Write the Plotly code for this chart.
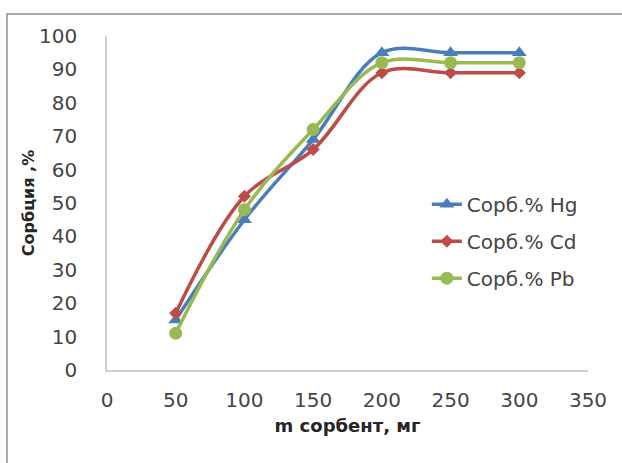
import plotly.graph_objects as go

# Sorbent mass, mg
mass = [50, 100, 150, 200, 250, 300]

# Sorption degree, %
sorb_hg = [15, 45, 69, 95, 95, 95]
sorb_cd = [17, 52, 66, 89, 89, 89]
sorb_pb = [11, 48, 72, 92, 92, 92]

x_ticks = [0, 50, 100, 150, 200, 250, 300, 350]
y_ticks = [0, 10, 20, 30, 40, 50, 60, 70, 80, 90, 100]

FONT = "DejaVu Sans"
TEXT = "#454545"

series = [
    ("Сорб.% Hg", sorb_hg, "#4A7EBB", "triangle-up", 13),
    ("Сорб.% Cd", sorb_cd, "#BE4B48", "diamond", 10),
    ("Сорб.% Pb", sorb_pb, "#98B954", "circle", 13),
]

fig = go.Figure()
for i, (name, vals, color, sym, size) in enumerate(series):
    fig.add_trace(go.Scatter(
        x=mass, y=vals, name=name, mode="lines+markers",
        legendgroup=f"g{i}",
        line=dict(color=color, width=3.5, shape="spline", smoothing=1.0),
        marker=dict(symbol=sym, size=size, color=color),
    ))

fig.update_layout(
    width=622, height=463,
    margin=dict(l=107, r=34, t=36, b=93),
    paper_bgcolor="white", plot_bgcolor="white",
    font=dict(family=FONT, color=TEXT, size=20),
    showlegend=True,
    legend=dict(
        x=0.665, y=0.555, xanchor="left", yanchor="top",
        bgcolor="rgba(0,0,0,0)", font=dict(size=20, color=TEXT),
        traceorder="grouped", tracegroupgap=8,
    ),
    xaxis=dict(
        range=[0, 350], tickvals=x_ticks, showgrid=False, zeroline=False,
        showline=True, linecolor="#D0D0D0", linewidth=1.5, ticks="",
        ticklabelstandoff=11,
        title=dict(text="<b>m сорбент, мг</b>", font=dict(size=18, color="#262626"), standoff=9),
    ),
    yaxis=dict(
        range=[0, 100], tickvals=y_ticks, showgrid=False, zeroline=False,
        showline=True, linecolor="#D0D0D0", linewidth=1.5, ticks="",
        ticklabelstandoff=24,
        title=dict(text="<b>Сорбция ,%</b>", font=dict(size=16, color="#262626"), standoff=0),
    ),
    shapes=[dict(
        type="rect", xref="paper", yref="paper",
        x0=-0.208, x1=1.3, y0=-0.5, y1=1.066,
        line=dict(color="#8C8C8C", width=1.5), fillcolor="rgba(0,0,0,0)",
        layer="below",
    )],
)

fig.write_html("out.html")
